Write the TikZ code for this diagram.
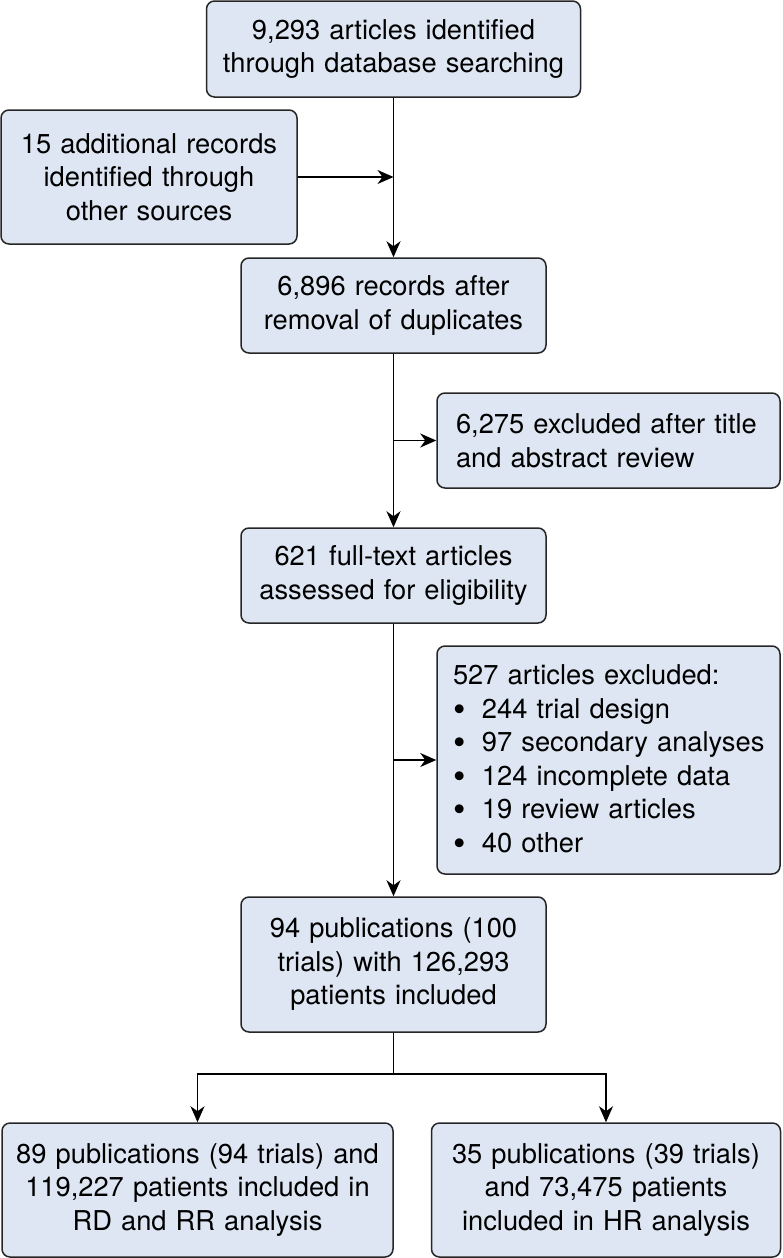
\documentclass[tikz,border=0pt]{standalone}
\usepackage{fontspec}
\setmainfont{TeX Gyre Heros}
\usepackage{tikz}
\usetikzlibrary{arrows.meta}
\definecolor{boxblue}{RGB}{221,230,242}
\newcommand{\bul}{\makebox[1.06em][l]{\raisebox{-0.1em}{\scalebox{1.3}{\textbullet}}}}

\tikzset{
	flowbox/.style={draw=black!85, fill=boxblue, line width=1.5pt, rounded corners=8pt,
		inner xsep=0pt, inner ysep=0pt, align=center,
		font=\fontsize{27.3}{33.5}\selectfont},
	sidebox/.style={flowbox, align=left},
	arr/.style={line width=1.5pt, -{Stealth[length=16pt,width=14pt,inset=5pt]}},
	ln/.style={line width=1.5pt},
}

\begin{document}
\begin{tikzpicture}[x=1pt,y=-1pt]
	\useasboundingbox (0,0) rectangle (782,1258);
	% boxes down the middle
	\node[flowbox, text width=374, minimum height=96] (found) at (393.5,49) {9,293 articles identified\\through database searching};
	\node[flowbox, text width=296, minimum height=134] (other) at (149,177) {15 additional records\\identified through\\other sources};
	\node[flowbox, text width=305, minimum height=95] (dedup) at (393.5,305.5) {6,896 records after\\removal of duplicates};
	\node[sidebox, inner xsep=19, text width=305, minimum height=95] (excl1) at (608.5,440.5) {6,275 excluded after title\\and abstract review};
	\node[flowbox, text width=305, minimum height=95] (full) at (393.5,575.5) {621 full-text articles\\assessed for eligibility};
	\node[sidebox, inner xsep=16, text width=311, minimum height=228] (excl2) at (608.5,760) {527 articles excluded:\\
		\bul 244 trial design\\
		\bul\mbox{97 secondary analyses}\\
		\bul 124 incomplete data\\
		\bul 19 review articles\\
		\bul 40 other};
	\node[flowbox, text width=305, minimum height=135] (incl) at (393.5,964.5) {94 publications (100\\trials) with 126,293\\patients included};
	% the two analyses
	\node[flowbox, text width=391, minimum height=134] (rdrr) at (197.5,1190) {89 publications (94 trials) and\\119,227 patients included in\\RD and RR analysis};
	\node[flowbox, text width=349, minimum height=134] (hr) at (606,1190) {35 publications (39 trials)\\and 73,475 patients\\included in HR analysis};

	\coordinate (join) at (found.south |- other.east);
	\coordinate (split) at (393.5,1074);

	\draw[arr] (found.south) -- (dedup.north);
	\draw[arr] (other.east) -- (join);
	\draw[arr] (dedup.south) -- (full.north);
	\draw[arr] (found.south |- excl1.west) -- (excl1.west);
	\draw[arr] (full.south) -- (incl.north);
	\draw[arr] (found.south |- excl2.west) -- (excl2.west);
	\draw[ln] (incl.south) -- (split);
	\draw[arr] (split) -| (rdrr.north);
	\draw[arr] (split) -| (hr.north);
\end{tikzpicture}
\end{document}
